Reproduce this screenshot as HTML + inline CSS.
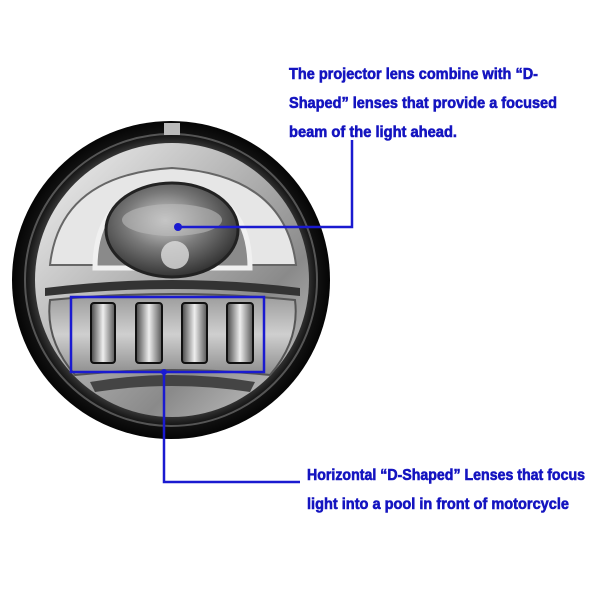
<!DOCTYPE html>
<html><head><style>html,body{margin:0;padding:0;background:#fff;width:600px;height:600px;overflow:hidden}</style></head>
<body>
<svg width="600" height="600" viewBox="0 0 600 600" xmlns="http://www.w3.org/2000/svg">
<defs>
<radialGradient id="ring" cx="50%" cy="50%" r="50%">
<stop offset="0.85" stop-color="#3a3a3a"/><stop offset="0.92" stop-color="#111"/><stop offset="1" stop-color="#050505"/>
</radialGradient>
<linearGradient id="silver" x1="0" y1="0" x2="1" y2="1">
<stop offset="0" stop-color="#f4f4f4"/><stop offset="0.4" stop-color="#b8b8b8"/><stop offset="0.7" stop-color="#8a8a8a"/><stop offset="1" stop-color="#d0d0d0"/>
</linearGradient>
<radialGradient id="lens" cx="45%" cy="40%" r="60%">
<stop offset="0" stop-color="#d5d5d5"/><stop offset="0.5" stop-color="#7a7a7a"/><stop offset="1" stop-color="#333"/>
</radialGradient>
<linearGradient id="pill" x1="0" y1="0" x2="1" y2="0">
<stop offset="0" stop-color="#444"/><stop offset="0.5" stop-color="#eee"/><stop offset="1" stop-color="#555"/>
</linearGradient>
<linearGradient id="lower" x1="0" y1="0" x2="0" y2="1">
<stop offset="0" stop-color="#9a9a9a"/><stop offset="0.5" stop-color="#cfcfcf"/><stop offset="1" stop-color="#8c8c8c"/>
</linearGradient>
</defs>
<circle cx="171" cy="280" r="159" fill="url(#ring)"/>
<circle cx="171" cy="280" r="146" fill="none" stroke="#555" stroke-width="2"/>
<rect x="164" y="123" width="16" height="12" fill="#bbb"/>
<circle cx="172" cy="280" r="137" fill="url(#silver)"/>
<path d="M50 265 Q60 175 172 168 Q285 175 296 265 Z" fill="#e6e6e6" stroke="#666" stroke-width="2"/>
<path d="M95 268 Q95 190 172 186 Q250 190 250 268 Z" fill="#8a8a8a" stroke="#f0f0f0" stroke-width="5"/>
<ellipse cx="172" cy="230" rx="66" ry="47" fill="url(#lens)" stroke="#222" stroke-width="3"/>
<ellipse cx="172" cy="220" rx="50" ry="16" fill="#bbb" opacity="0.6"/>
<circle cx="175" cy="255" r="14" fill="#ddd" opacity="0.8"/>
<path d="M45 288 Q172 272 300 288 L300 296 Q172 282 45 296 Z" fill="#333"/>
<path d="M50 300 Q172 288 295 300 Q300 340 270 375 Q172 365 75 375 Q45 340 50 300 Z" fill="url(#lower)" stroke="#555" stroke-width="2"/>
<path d="M90 382 Q172 368 255 382 L250 392 Q172 380 95 392 Z" fill="#444"/>
<g stroke="#111" stroke-width="2">
<rect x="91" y="303" width="24" height="60" rx="3" fill="url(#pill)"/>
<rect x="136" y="303" width="26" height="60" rx="3" fill="url(#pill)"/>
<rect x="182" y="303" width="25" height="60" rx="3" fill="url(#pill)"/>
<rect x="227" y="303" width="26" height="60" rx="3" fill="url(#pill)"/>
</g>
<g stroke="#1a1ad0" stroke-width="2.5" fill="none">
<rect x="71" y="297" width="193" height="75"/>
<polyline points="178,227 352,227 352,140"/>
<polyline points="164,372 164,482 300,482"/>
</g>
<circle cx="178" cy="227" r="4" fill="#1a1ad0"/>
<circle cx="164" cy="372" r="3" fill="#1a1ad0"/>
<g fill="#1414c0" stroke="#1414c0" stroke-width="0.6" font-family="Liberation Sans, sans-serif" font-weight="bold" font-size="16">
<text x="289" y="79" textLength="249" lengthAdjust="spacingAndGlyphs">The  projector lens combine with “D-</text>
<text x="289" y="108" textLength="268" lengthAdjust="spacingAndGlyphs">Shaped” lenses that provide a focused</text>
<text x="289" y="137" textLength="168" lengthAdjust="spacingAndGlyphs">beam of the light ahead.</text>
<text x="307" y="480" textLength="278" lengthAdjust="spacingAndGlyphs">Horizontal “D-Shaped” Lenses that focus</text>
<text x="307" y="509" textLength="262" lengthAdjust="spacingAndGlyphs">light into a pool in front of motorcycle</text>
</g>
</svg>
</body></html>
